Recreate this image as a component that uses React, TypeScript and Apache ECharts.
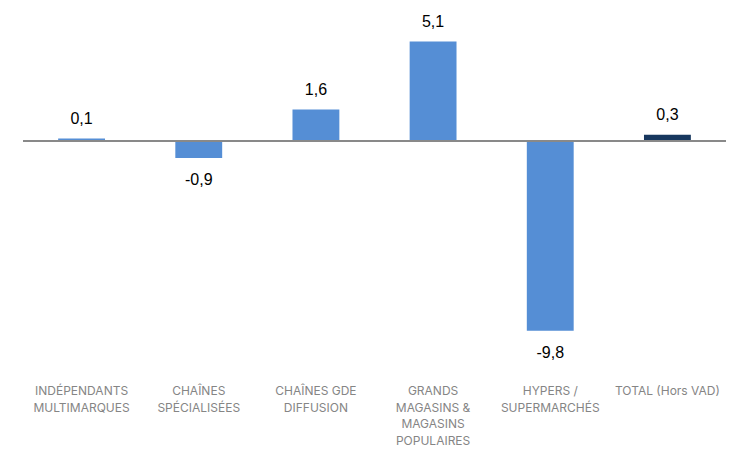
import React, { useEffect, useRef } from "react";
import * as echarts from "echarts";

const categories = [
  "INDÉPENDANTS\nMULTIMARQUES",
  "CHAÎNES\nSPÉCIALISÉES",
  "CHAÎNES GDE\nDIFFUSION",
  "GRANDS\nMAGASINS &\nMAGASINS\nPOPULAIRES",
  "HYPERS /\nSUPERMARCHÉS",
  "TOTAL (Hors VAD)",
];
const values = [0.1, -0.9, 1.6, 5.1, -9.8, 0.3];
const barColors = ["#558ED5", "#558ED5", "#558ED5", "#558ED5", "#558ED5", "#17375E"];

const fmt = (v: number) => v.toFixed(1).replace(".", ",");

export default function App() {
  const ref = useRef<HTMLDivElement>(null);
  useEffect(() => {
    if (!ref.current) return;
    const chart = echarts.init(ref.current, undefined, { renderer: "svg" });
    chart.setOption({
      animation: false,
      grid: { left: 23, right: 23, top: 24, bottom: 126.4 },
      xAxis: {
        type: "category",
        data: categories,
        axisLine: { show: false, onZero: false },
        axisTick: { show: false },
        axisLabel: {
          interval: 0,
          margin: 48,
          color: "#858585",
          fontFamily: "Inter",
          fontSize: 12,
          lineHeight: 16.5,
          verticalAlign: "top",
        },
      },
      yAxis: {
        type: "value",
        min: -10,
        max: 6,
        show: false,
        splitLine: { show: false },
      },
      series: [
        {
          type: "bar",
          barWidth: "40%",
          data: values.map((v, i) => ({
            value: v,
            itemStyle: { color: barColors[i] },
            label: {
              show: true,
              position: v >= 0 ? "top" : "bottom",
              distance: v >= 0 ? 12 : 14,
              formatter: () => fmt(v),
              color: "#000000",
              fontSize: 16,
              fontFamily: "Liberation Sans",
            },
          })),
          markLine: {
            silent: true,
            symbol: "none",
            label: { show: false },
            lineStyle: { color: "#898989", width: 2, type: "solid" },
            data: [{ yAxis: 0 }],
          },
        },
      ],
    });
    return () => chart.dispose();
  }, []);
  return <div ref={ref} style={{ width: 749, height: 461, position: "absolute", left: 0, top: 0 }} />;
}
